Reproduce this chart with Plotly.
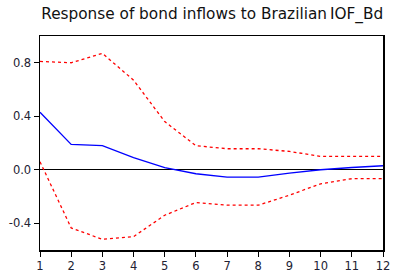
import plotly.graph_objects as go

periods = [1, 2, 3, 4, 5, 6, 7, 8, 9, 10, 11, 12]
response = [0.43, 0.19, 0.18, 0.09, 0.015, -0.03, -0.055, -0.055, -0.025, 0.0, 0.017, 0.03]
upper = [0.81, 0.80, 0.87, 0.67, 0.36, 0.18, 0.157, 0.157, 0.137, 0.10, 0.10, 0.10]
lower = [0.06, -0.435, -0.52, -0.50, -0.34, -0.245, -0.265, -0.265, -0.19, -0.105, -0.067, -0.067]
title_text = "Response of bond inflows to Brazilian\u2009IOF_Bd"
ytick_vals = [-0.4, 0.0, 0.4, 0.8]
ytick_text = ["-0.4", "0.0", "0.4", "0.8"]

fig = go.Figure()
fig.add_trace(go.Scatter(x=periods, y=upper, mode="lines",
                         line=dict(color="#ff0000", width=1.3, dash="dot")))
fig.add_trace(go.Scatter(x=periods, y=lower, mode="lines",
                         line=dict(color="#ff0000", width=1.3, dash="dot")))
fig.add_trace(go.Scatter(x=periods, y=response, mode="lines",
                         line=dict(color="#0000ff", width=1.3)))

fig.update_layout(
    width=393, height=276,
    margin=dict(l=40, r=10, t=36, b=26),
    paper_bgcolor="white", plot_bgcolor="white",
    showlegend=False,
    font=dict(family="DejaVu Sans, sans-serif", color="#222233"),
    title=dict(text=title_text, x=0.54, xanchor="center", y=0.95, yanchor="middle",
               font=dict(size=15.3, color="#111111", family="DejaVu Sans, sans-serif")),
)
fig.update_xaxes(range=[1, 12], tickvals=periods, ticks="outside", ticklen=5,
                 tickcolor="black", showgrid=False, zeroline=False,
                 showline=True, linecolor="black", linewidth=1.5, mirror=True,
                 ticklabeloverflow="allow", automargin=False,
                 tickfont=dict(size=11.5))
fig.update_yaxes(range=[-0.6, 1.0], tickvals=ytick_vals, ticktext=ytick_text,
                 ticks="outside", ticklen=5, tickcolor="black", showgrid=False,
                 zeroline=True, zerolinecolor="black", zerolinewidth=1,
                 showline=True, linecolor="black", linewidth=1.5, mirror=True,
                 automargin=False, ticklabeloverflow="allow",
                 tickfont=dict(size=11.5))

fig.write_html("out.html",
               config={"displayModeBar": False, "staticPlot": True},
               post_script="document.body.style.margin='0';document.body.style.overflow='hidden';")
